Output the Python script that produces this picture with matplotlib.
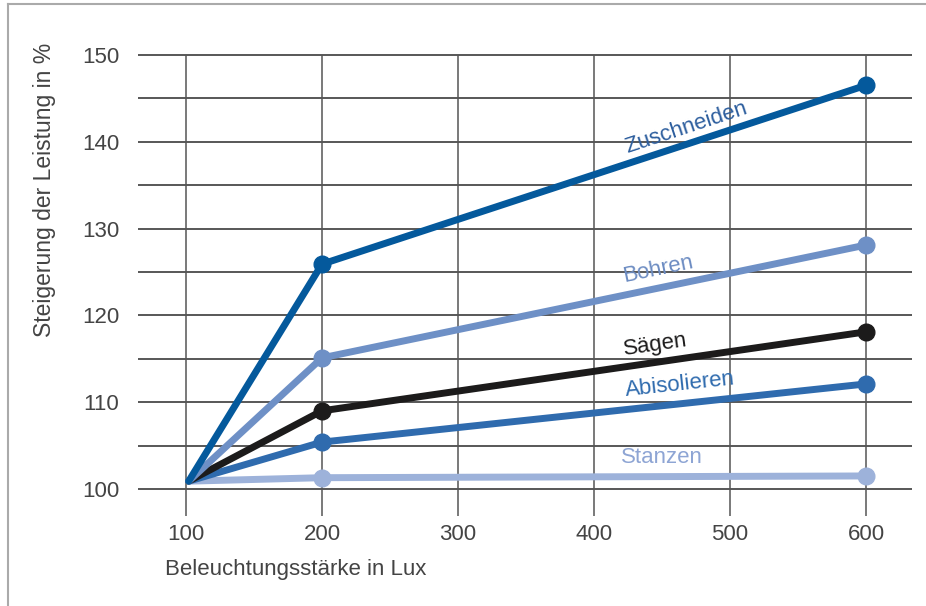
import numpy as np
import matplotlib
matplotlib.use("Agg")
import matplotlib.pyplot as plt
from matplotlib.lines import Line2D

plt.rcParams["font.family"] = ["Liberation Sans", "DejaVu Sans"]

# data
lux = [102, 200, 600]
zuschneiden = [100.9, 125.9, 146.5]
bohren = [100.9, 115.1, 128.1]
saegen = [100.9, 109.0, 118.1]
abisolieren = [100.9, 105.4, 112.1]
stanzen = [100.9, 101.3, 101.5]

names = ["Stanzen", "Abisolieren", "Sägen", "Bohren", "Zuschneiden"]
values = [stanzen, abisolieren, saegen, bohren, zuschneiden]
colors = ["#9db2da", "#2f6bae", "#1c1b1b", "#6e90c6", "#04599c"]
label_colors = ["#8ea5d4", "#2f6bae", "#1c1b1b", "#6c8cc2", "#2d5e9e"]
# label anchor (x, y) in data units
label_pos = [(450, 103.6), (463, 112.0), (445, 116.6), (447, 125.3), (468, 141.6)]

x_ticks = [100, 200, 300, 400, 500, 600]
y_ticks = [100, 110, 120, 130, 140, 150]

fig = plt.figure(figsize=(9.26, 6.06), dpi=100)
ax = fig.add_axes([0.1421, 0.1487, 0.8518, 0.775])
ax.set_xlim(60, 640)
ax.set_ylim(96.9, 151)

# grid drawn by hand so it stops where the reference stops
ax.hlines(np.arange(100, 151, 5), 65, 634, color="#2a2a2a", lw=1.1, zorder=1)
ax.vlines(x_ticks, 96.9, 150, color="#555555", lw=1.1, zorder=1)

for name, vals, col in zip(names, values, colors):
    ax.plot(lux, vals, color=col, lw=5, marker="o", markersize=12,
            markevery=[1, 2], solid_capstyle="round", zorder=3)

fig.canvas.draw()
for name, vals, lcol, (lx, ly) in zip(names, values, label_colors, label_pos):
    p1 = ax.transData.transform((lux[1], vals[1]))
    p2 = ax.transData.transform((lux[2], vals[2]))
    angle = np.degrees(np.arctan2(p2[1] - p1[1], p2[0] - p1[0]))
    if name == "Stanzen":
        angle = 0
    ax.text(lx, ly, name, color=lcol, fontsize=16, rotation=angle,
            rotation_mode="anchor", ha="center", va="center", zorder=4)

for s in ax.spines.values():
    s.set_visible(False)
ax.set_xticks(x_ticks)
ax.set_yticks(y_ticks)
ax.tick_params(length=0, labelsize=16, colors="#444444")
ax.tick_params(axis="y", pad=9)
ax.tick_params(axis="x", pad=6)

fig.text(165 / 926, 1 - 570 / 606, "Beleuchtungsstärke in Lux", fontsize=16,
         color="#444444", ha="left", va="center")
fig.text(45 / 926, 1 - 190 / 606, "Steigerung der Leistung in %", fontsize=16.5,
         color="#444444", ha="center", va="center", rotation=90)

# frame lines on the left and top
fig.add_artist(Line2D([8 / 926, 8 / 926], [0, 1 - 4 / 606], transform=fig.transFigure,
                      color="#aaaaaa", lw=1.5))
fig.add_artist(Line2D([8 / 926, 1], [1 - 4 / 606, 1 - 4 / 606], transform=fig.transFigure,
                      color="#aaaaaa", lw=1.5))

fig.savefig("out.png", dpi=100)
